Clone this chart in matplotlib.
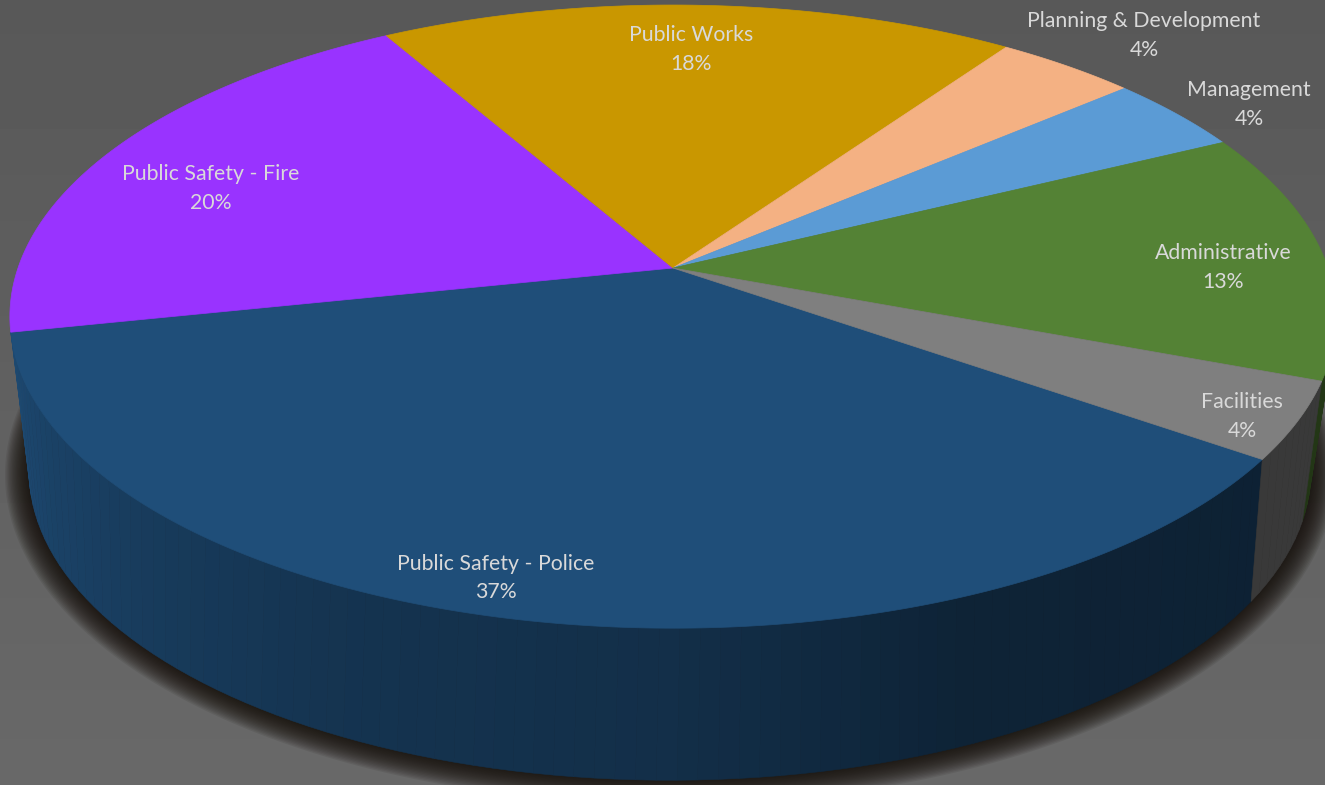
import numpy as np
import matplotlib
matplotlib.use("Agg")
import matplotlib.pyplot as plt
from matplotlib.patches import Polygon

categories = ["Public Safety - Police", "Public Safety - Fire", "Public Works",
              "Planning & Development", "Management", "Administrative", "Facilities"]
shares = [37, 20, 18, 4, 4, 13, 4]
top_colors = ["#1f4e79", "#9933ff", "#c99700", "#f4b183", "#5b9bd5", "#548235", "#7f7f7f"]
label_xy = [(496, 578), (211, 188.5), (691, 49.5), (1144, 35.5), (1249, 104.5), (1223, 267.5), (1242, 416.5)]

START_DEG = -35.0  # where the first slice begins; slices run clockwise


def top_rim(theta):
    """Map circle angles (radians) onto the perspective-projected top face."""
    X, Y = np.cos(theta), np.sin(theta)
    w = 1 + 0.156 * Y
    return 673 + 655 * X / w, 268 - 304 * Y / w


def bottom_rim(theta):
    """Lower rim of the disc: slightly narrower and further down."""
    X, Y = np.cos(theta), np.sin(theta)
    w = 1 + 0.2 * Y
    return 670 + 628 * X / w, 409 - 297 * Y / w


def wall_shade(theta_deg):
    # Light falls from the left: brightest at the left edge, darkest at the right.
    t = np.clip((np.mod(theta_deg, 360) - 190) / 170, 0, 1)
    return np.interp(t, [0, 0.1, 0.32, 0.47, 0.6, 1], [0.95, 0.85, 0.66, 0.6, 0.45, 0.40])


fig = plt.figure(figsize=(13.25, 7.85), dpi=100)
ax = fig.add_axes([0, 0, 1, 1])
ax.set_xlim(0, 1325)
ax.set_ylim(785, 0)
ax.axis("off")

# Backdrop: dark grey, a touch lighter toward the bottom
ramp = np.linspace(0.345, 0.41, 256)[:, None]
ax.imshow(ramp, cmap="gray", vmin=0, vmax=1, extent=(0, 1325, 785, 0), aspect="auto", zorder=0)

# Soft drop shadow hugging the lower silhouette
th = np.linspace(0, 2 * np.pi, 720)
bx, by = bottom_rim(th)
for grow in np.linspace(24, 1, 18):
    sx = 670 + (bx - 670) * (1 + grow / 640)
    sy = 409 + (by - 409) * (1 + grow / 370)
    ax.add_patch(Polygon(np.c_[sx, sy], closed=True, fc="#150f0a", ec="none", alpha=0.09, zorder=1))

# Slice boundaries in degrees, walking clockwise from the start angle
edges = START_DEG - np.cumsum([0] + [s * 3.6 for s in shares])
wall_from = np.mod(edges[1], 360)

# Outer wall, drawn as narrow strips so the shading steps show
for start, end, color in zip(edges[:-1], edges[1:], top_colors):
    rgb = np.array(matplotlib.colors.to_rgb(color))
    steps = max(2, int(abs(start - end) / 1.5))
    ang = np.linspace(start, end, steps + 1)
    for a0, a1 in zip(ang[:-1], ang[1:]):
        mid = np.mod((a0 + a1) / 2, 360)
        if not (wall_from <= mid <= 360):
            continue
        pair = np.radians([a0, a1])
        tx, ty = top_rim(pair)
        ux, uy = bottom_rim(pair)
        shade = wall_shade(mid)
        if color == "#7f7f7f":
            shade = 0.45
        if color == "#548235":
            shade = 0.42
        ax.add_patch(Polygon([(tx[0], ty[0]), (tx[1], ty[1]), (ux[1], uy[1]), (ux[0], uy[0])],
                             closed=True, fc=rgb * shade, ec=rgb * shade, lw=0.4, zorder=2))

# Top face slices
for start, end, color in zip(edges[:-1], edges[1:], top_colors):
    ang = np.radians(np.linspace(start, end, 200))
    rx, ry = top_rim(ang)
    verts = np.c_[np.r_[673, rx], np.r_[268, ry]]
    ax.add_patch(Polygon(verts, closed=True, fc=color, ec=color, lw=0.5, zorder=3))

# Category and share labels
for name, share, (x, y) in zip(categories, shares, label_xy):
    ax.text(x, y, f"{name}\n{share}%", ha="center", va="center", color="#d9d9d9",
            fontfamily="Lato", fontsize=15.3, linespacing=1.54, zorder=4)

fig.savefig("out.png", dpi=100)
